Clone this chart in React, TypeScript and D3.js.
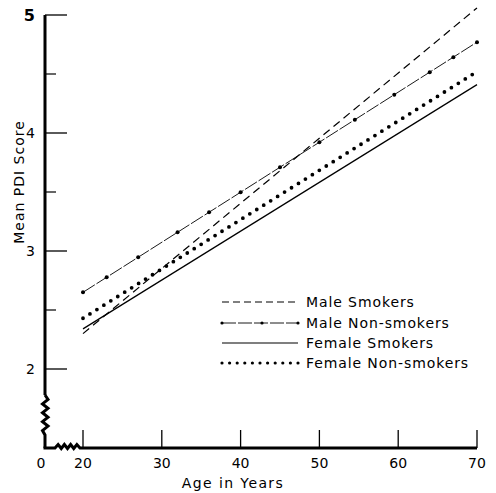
import React from "react";
import * as d3 from "d3";

const ages = [20, 70];
const maleSmokers = [2.3, 5.06];
const maleNonSmokers = [2.65, 4.77];
const femaleSmokers = [2.34, 4.41];
const femaleNonSmokers = [2.43, 4.52];
const maleNonSmokerMarkerAges = [20, 23, 27, 32, 36, 40, 45, 50, 54.5, 59.5, 64, 67, 70];
const xTicks = [0, 20, 30, 40, 50, 60, 70];
const yTicks = [2, 3, 4, 5];
const yMinorTicks = [2.5, 3.5, 4.5];
const legendLabels = ["Male Smokers", "Male Non-smokers", "Female Smokers", "Female Non-smokers"];

const W = 496;
const H = 493;
const FONT = "'DejaVu Sans', 'Liberation Sans', sans-serif";

export default function App() {
  const x = d3.scaleLinear().domain([20, 70]).range([83, 477]);
  const y = d3.scaleLinear().domain([2, 5]).range([369, 15]);
  const x0 = 45;
  const yAxisY = 448;

  const line = d3
    .line<[number, number]>()
    .x((d) => x(d[0]))
    .y((d) => y(d[1]));
  const pts = (vals: number[]) => ages.map((a, i) => [a, vals[i]] as [number, number]);

  const interp = (vals: number[], a: number) =>
    vals[0] + ((vals[1] - vals[0]) * (a - ages[0])) / (ages[1] - ages[0]);

  const yZig: string[] = [];
  {
    const top = 395, bot = 435, n = 9;
    yZig.push(`M${x0},${y(5)} L${x0},${top}`);
    let p = `M${x0},${top}`;
    for (let i = 1; i <= n; i++) {
      const yy = top + ((bot - top) * i) / n;
      const xx = i === n ? x0 : x0 + (i % 2 === 1 ? 3 : -2.5);
      p += ` L${xx},${yy}`;
    }
    p += ` L${x0},${yAxisY}`;
    yZig.push(p);
  }
  let xZig = `M${x0 - 1.5},${yAxisY} L55,${yAxisY}`;
  {
    const l = 55, r = 80, n = 8;
    for (let i = 1; i <= n; i++) {
      const xx = l + ((r - l) * i) / n;
      const yy = i === n ? yAxisY : yAxisY + (i % 2 === 1 ? -3.5 : 0.5);
      xZig += ` L${xx},${yy}`;
    }
    xZig += ` L${x(70)},${yAxisY}`;
  }

  const legX1 = 222, legX2 = 298, legTextX = 306;
  const legY = [302, 323, 343, 363];

  return (
    <svg
      width={W}
      height={H}
      style={{ position: "absolute", left: 0, top: 0, background: "#fff" }}
      fontFamily={FONT}
    >
      <rect width={W} height={H} fill="#fff" />
      {yZig.map((d, i) => (
        <path key={i} d={d} fill="none" stroke="#000" strokeWidth={3} strokeLinejoin="miter" />
      ))}
      <path d={xZig} fill="none" stroke="#000" strokeWidth={3} />
      {yTicks.map((t) => (
        <g key={t}>
          <line x1={x0} x2={67} y1={y(t)} y2={y(t)} stroke="#000" strokeWidth={1.3} />
          <text
            x={35}
            y={y(t)}
            dy="0.36em"
            textAnchor="end"
            fontSize={t === 5 ? 16 : 14}
            fontWeight={t === 5 ? "bold" : "normal"}
          >
            {t}
          </text>
        </g>
      ))}
      {yMinorTicks.map((t) => (
        <line key={t} x1={x0} x2={56} y1={y(t)} y2={y(t)} stroke="#000" strokeWidth={1.2} />
      ))}
      {xTicks.map((t) =>
        t === 0 ? (
          <text key={t} x={41} y={468} textAnchor="middle" fontSize={14}>
            0
          </text>
        ) : (
          <g key={t}>
            <line x1={x(t)} x2={x(t)} y1={yAxisY} y2={430} stroke="#000" strokeWidth={1.3} />
            <text x={x(t)} y={468} textAnchor="middle" fontSize={14}>
              {t}
            </text>
          </g>
        )
      )}
      <text x={233} y={488} textAnchor="middle" fontSize={14} letterSpacing={1.4}>
        Age in Years
      </text>
      <text
        transform={`translate(24,182) rotate(-90)`}
        textAnchor="middle"
        fontSize={14}
        letterSpacing={1}
      >
        Mean PDI Score
      </text>

      <path d={line(pts(femaleSmokers)) || ""} fill="none" stroke="#000" strokeWidth={1.2} />
      <path
        d={line(pts(maleSmokers)) || ""}
        fill="none"
        stroke="#000"
        strokeWidth={1.2}
        strokeDasharray="8 5"
      />
      <path
        d={line(pts(maleNonSmokers)) || ""}
        fill="none"
        stroke="#000"
        strokeWidth={0.9}
        strokeDasharray="14 2"
      />
      {maleNonSmokerMarkerAges.map((a) => (
        <circle key={a} cx={x(a)} cy={y(interp(maleNonSmokers, a))} r={2} fill="#000" />
      ))}
      <path
        d={line(pts(femaleNonSmokers)) || ""}
        fill="none"
        stroke="#000"
        strokeWidth={3.8}
        strokeLinecap="round"
        strokeDasharray="0 8.2"
      />

      <line x1={legX1} x2={legX2} y1={legY[0]} y2={legY[0]} stroke="#000" strokeWidth={1.1} strokeDasharray="7 4" />
      <line x1={legX1} x2={legX2} y1={legY[1]} y2={legY[1]} stroke="#000" strokeWidth={0.9} strokeDasharray="14 2" />
      {[legX1, 262, legX2].map((xx) => (
        <circle key={xx} cx={xx} cy={legY[1]} r={1.6} fill="#000" />
      ))}
      <line x1={legX1} x2={legX2} y1={legY[2]} y2={legY[2]} stroke="#000" strokeWidth={1.2} />
      <line
        x1={legX1}
        x2={legX2}
        y1={legY[3]}
        y2={legY[3]}
        stroke="#000"
        strokeWidth={3.2}
        strokeLinecap="round"
        strokeDasharray="0 7.6"
      />
      {legendLabels.map((l, i) => (
        <text key={l} x={legTextX} y={legY[i]} dy="0.36em" fontSize={14} letterSpacing={0.9}>
          {l}
        </text>
      ))}
    </svg>
  );
}
